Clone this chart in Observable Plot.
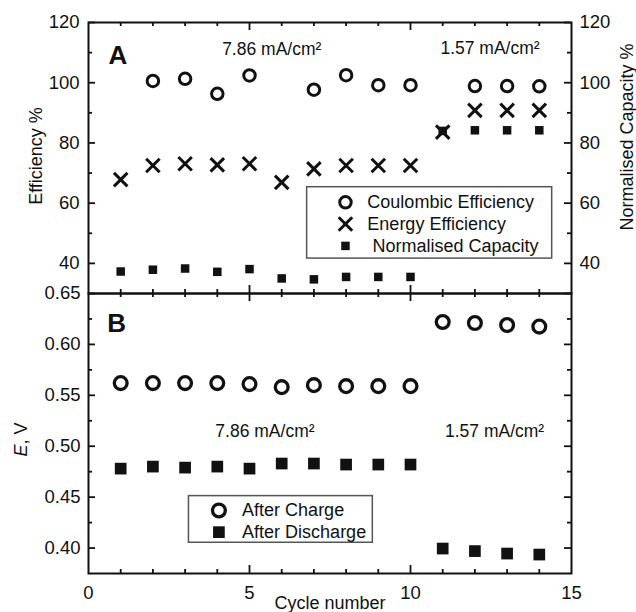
<!DOCTYPE html>
<html><head><meta charset="utf-8">
<script src="https://cdn.jsdelivr.net/npm/d3@7"></script>
<script src="https://cdn.jsdelivr.net/npm/@observablehq/plot@0.6"></script>
<style>
html,body{margin:0;padding:0;background:#fff;}
#chart{position:relative;width:636px;height:612px;font-family:"Liberation Sans",Arial,sans-serif;}
#chart svg{position:absolute;left:0;}
</style></head><body><div id="chart"></div>
<script>
// ---- data ----
const cycles = [1,2,3,4,5,6,7,8,9,10,11,12,13,14];
const coulombicCycles = [2,3,4,5,7,8,9,10,12,13,14];
const coulombic = [100.6,101.3,96.3,102.4,97.7,102.5,99.2,99.2,98.9,98.9,98.8];
const energy = [67.8,72.5,73.1,72.7,73.1,66.9,71.4,72.5,72.5,72.5,83.6,90.8,90.8,90.8];
const capacity = [37.3,37.9,38.3,37.2,38.1,35.0,34.7,35.5,35.5,35.5,84.0,84.2,84.2,84.2];
const afterCharge = [0.562,0.562,0.562,0.562,0.561,0.558,0.560,0.559,0.559,0.559,0.622,0.621,0.619,0.6175];
const afterDischarge = [0.478,0.480,0.479,0.480,0.478,0.483,0.483,0.482,0.482,0.482,0.3995,0.397,0.3946,0.3936];

const xMajor = [5,10];
const xMinor = [1,2,3,4,6,7,8,9,11,12,13,14];
const xLabels = [0,5,10,15];
const effMajor = [40,60,80,100,120];
const effMinor = [50,70,90,110];
const eMajor = [0.40,0.45,0.50,0.55,0.60,0.65];
const eMinor = [0.425,0.475,0.525,0.575,0.625];

const topNotes = [{x:4.15,y:109.2,t:"7.86 mA/cm²"},{x:10.93,y:109.5,t:"1.57 mA/cm²"}];
const botNotes = [{x:3.94,y:0.509,t:"7.86 mA/cm²"},{x:11.07,y:0.509,t:"1.57 mA/cm²"}];
const topLegendBox = [{x1:6.79,x2:14.40,y1:41.6,y2:65.3}];
const topLegend = [
  {x:7.98,y:60.3,tx:8.66,t:"Coulombic Efficiency",s:"circle"},
  {x:7.98,y:53.1,tx:8.66,t:"Energy Efficiency",s:"times"},
  {x:7.98,y:45.8,tx:8.82,t:"Normalised Capacity",s:"square"}];
const botLegendBox = [{x1:3.12,x2:8.83,y1:0.4052,y2:0.451}];
const botLegend = [
  {x:4.05,y:0.4369,tx:4.77,t:"After Charge",s:"circle"},
  {x:4.05,y:0.4156,tx:4.77,t:"After Discharge",s:"square"}];

// ---- drawing ----
const ink = "#111";
const FS = 18.5;
const W = 636, ML = 88, MR = 65, PW = W - ML - MR;
const base = {
  width: W, marginLeft: ML, marginRight: MR,
  x: {domain: [0,15], axis: null},
  style: {fontFamily: '"Liberation Sans", Arial, sans-serif', fontSize: FS + "px", color: ink, background: "transparent", overflow: "visible"}
};
const TW = 1.8;
// inward ticks on all four sides, drawn with tick marks through the scales
const xTicks = (PH) => [
  Plot.tickX(xMinor, {x: d => d, insetBottom: PH - 4, stroke: ink, strokeWidth: TW}),
  Plot.tickX(xMajor, {x: d => d, insetBottom: PH - 8, stroke: ink, strokeWidth: TW}),
  Plot.tickX(xMinor, {x: d => d, insetTop: PH - 4, stroke: ink, strokeWidth: TW}),
  Plot.tickX(xMajor, {x: d => d, insetTop: PH - 8, stroke: ink, strokeWidth: TW})
];
const yTicks = (major, minor) => [
  Plot.tickY(minor, {y: d => d, insetRight: PW - 4, stroke: ink, strokeWidth: TW}),
  Plot.tickY(major, {y: d => d, insetRight: PW - 7, stroke: ink, strokeWidth: TW}),
  Plot.tickY(minor, {y: d => d, insetLeft: PW - 4, stroke: ink, strokeWidth: TW}),
  Plot.tickY(major, {y: d => d, insetLeft: PW - 7, stroke: ink, strokeWidth: TW})
];

const topH = 300, topMT = 22, topMB = 7;
const topPlot = Plot.plot({
  ...base, height: topH, marginTop: topMT, marginBottom: topMB,
  y: {domain: [30,120], axis: null},
  marks: [
    ...xTicks(topH - topMT - topMB),
    ...yTicks(effMajor, effMinor),
    Plot.axisY(effMajor, {anchor: "left", tickSize: 0, tickPadding: 9, label: null, fontSize: FS}),
    Plot.axisY(effMajor, {anchor: "right", tickSize: 0, tickPadding: 8, label: null, fontSize: FS}),
    Plot.frame({stroke: ink, strokeWidth: 2}),
    Plot.dot(coulombicCycles, {x: d => d, y: (d,i) => coulombic[i], r: 5.75, stroke: ink, strokeWidth: 3, fill: "none"}),
    Plot.dot(cycles, {x: d => d, y: (d,i) => energy[i], symbol: "times", r: 6.2, stroke: ink, strokeWidth: 3}),
    Plot.dot(cycles, {x: d => d, y: (d,i) => capacity[i], symbol: "square", r: 4.8, fill: ink, stroke: "none"}),
    Plot.text(topNotes, {x: "x", y: "y", text: "t", textAnchor: "start", lineAnchor: "bottom", fontSize: 17.5, fill: ink}),
    Plot.text(["A"], {x: 0.62, y: 106.2, textAnchor: "start", lineAnchor: "bottom", fontSize: 26, fontWeight: "bold", fill: ink}),
    Plot.rect(topLegendBox, {x1: "x1", x2: "x2", y1: "y1", y2: "y2", fill: "none", stroke: "#555", strokeWidth: 1.5}),
    Plot.dot(topLegend.filter(d => d.s === "circle"), {x: "x", y: "y", r: 5.75, stroke: ink, strokeWidth: 3, fill: "none"}),
    Plot.dot(topLegend.filter(d => d.s === "times"), {x: "x", y: "y", symbol: "times", r: 6.2, stroke: ink, strokeWidth: 3}),
    Plot.dot(topLegend.filter(d => d.s === "square"), {x: "x", y: "y", symbol: "square", r: 4.8, fill: ink, stroke: "none"}),
    Plot.text(topLegend, {x: "tx", y: "y", text: "t", textAnchor: "start", lineAnchor: "middle", fontSize: 18, fill: ink}),
    Plot.text(["Efficiency %"], {frameAnchor: "left", textAnchor: "middle", dx: -47, dy: -2, rotate: -90, lineAnchor: "bottom", fontSize: 18, fill: ink}),
    Plot.text(["Normalised Capacity %"], {frameAnchor: "right", textAnchor: "middle", dx: 61, dy: -21, rotate: -90, lineAnchor: "bottom", fontSize: 18, fill: ink})
  ]
});

const botH = 332, botMT = 13, botMB = 39;
const botPlot = Plot.plot({
  ...base, height: botH, marginTop: botMT, marginBottom: botMB,
  y: {domain: [0.375,0.65], axis: null},
  marks: [
    ...xTicks(botH - botMT - botMB),
    ...yTicks(eMajor, eMinor),
    Plot.axisX(xLabels, {anchor: "bottom", tickSize: 0, tickPadding: 12, label: null, fontSize: FS}),
    Plot.axisY(eMajor, {anchor: "left", tickSize: 0, tickPadding: 8, tickFormat: d3.format(".2f"), label: null, fontSize: FS}),
    Plot.frame({stroke: ink, strokeWidth: 2}),
    Plot.dot(cycles, {x: d => d, y: (d,i) => afterCharge[i], r: 6.4, stroke: ink, strokeWidth: 3.3, fill: "none"}),
    Plot.dot(cycles, {x: d => d, y: (d,i) => afterDischarge[i], symbol: "square", r: 6.6, fill: ink, stroke: "none"}),
    Plot.text(botNotes, {x: "x", y: "y", text: "t", textAnchor: "start", lineAnchor: "bottom", fontSize: 17.5, fill: ink}),
    Plot.text(["B"], {x: 0.58, y: 0.612, textAnchor: "start", lineAnchor: "bottom", fontSize: 26, fontWeight: "bold", fill: ink}),
    Plot.rect(botLegendBox, {x1: "x1", x2: "x2", y1: "y1", y2: "y2", fill: "none", stroke: "#555", strokeWidth: 1.5}),
    Plot.dot(botLegend.filter(d => d.s === "circle"), {x: "x", y: "y", r: 6.4, stroke: ink, strokeWidth: 3.3, fill: "none"}),
    Plot.dot(botLegend.filter(d => d.s === "square"), {x: "x", y: "y", symbol: "square", r: 6.6, fill: ink, stroke: "none"}),
    Plot.text(botLegend, {x: "tx", y: "y", text: "t", textAnchor: "start", lineAnchor: "middle", fontSize: 18, fill: ink}),
    Plot.text(["E, V"], {frameAnchor: "left", textAnchor: "middle", dx: -62, dy: 6, rotate: -90, lineAnchor: "bottom", fontSize: 18, fill: ink}),
    Plot.text(["Cycle number"], {frameAnchor: "bottom", textAnchor: "middle", dy: 35, lineAnchor: "bottom", fontSize: 18, fill: ink})
  ]
});

const chart = document.getElementById("chart");
topPlot.style.top = "0px";
botPlot.style.top = "280px";
chart.appendChild(topPlot);
chart.appendChild(botPlot);

// italic E in the potential axis title
d3.select(botPlot).selectAll("text").filter(function() { return this.textContent === "E, V"; }).each(function() {
  const t = d3.select(this);
  t.text(null);
  t.append("tspan").attr("font-style", "italic").text("E");
  t.append("tspan").text(", V");
});
</script>
</body></html>
